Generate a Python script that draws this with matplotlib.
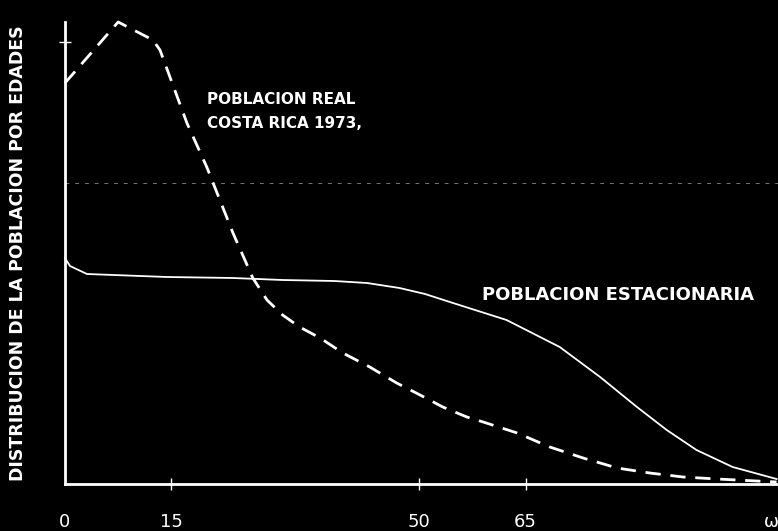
import matplotlib
matplotlib.use("Agg")

import matplotlib.pyplot as plt

# edades (x) y valores relativos (y)
edad_real = [0, 7.5, 12.4, 13.4, 17.2, 20.0, 23.7, 26.5, 28.5, 30.7, 33.1, 36.0,
             39.2, 43.0, 46.8, 50.1, 53.3, 56.7, 59.0, 63.8, 68.4, 73.1, 77.9,
             82.5, 87.2, 92.0, 100.4]
pob_real = [4.01, 4.62, 4.44, 4.34, 3.61, 3.17, 2.51, 2.06, 1.84, 1.69, 1.57, 1.46,
            1.31, 1.17, 1.01, 0.89, 0.77, 0.67, 0.62, 0.51, 0.37, 0.26, 0.16,
            0.11, 0.07, 0.05, 0.02]

edad_est = [0, 0.7, 3.1, 14.4, 23.7, 30.7, 38.0, 42.6, 47.2, 50.8, 54.3, 62.3,
            69.8, 75.5, 80.7, 84.9, 89.1, 94.2, 100.4]
pob_est = [2.26, 2.18, 2.10, 2.07, 2.06, 2.04, 2.03, 2.01, 1.96, 1.90, 1.82, 1.64,
           1.37, 1.07, 0.77, 0.54, 0.34, 0.17, 0.05]

ticks_x = [0, 15, 50, 65, 99.6]
etiquetas_x = ["0", "15", "50", "65", "ω"]

fig = plt.figure(figsize=(7.78, 5.31), dpi=100, facecolor="black")
ax = fig.add_axes([65 / 778, 47 / 531, 713 / 778, 462 / 531])
ax.set_facecolor("black")

# linea tenue del escaneo
ax.axhline(3.01, color="#777777", lw=0.7, ls=(0, (4, 6)), zorder=1)

ax.plot(edad_est, pob_est, color="white", lw=1.3, clip_on=False, zorder=3)
ax.plot(edad_real, pob_real, color="white", lw=2, clip_on=False, zorder=3,
        dashes=(5.5, 3.5))

ax.set_xlim(0, 100.6)
ax.set_ylim(0, 4.62)

for s in ["top", "right"]:
    ax.spines[s].set_visible(False)
for s in ["left", "bottom"]:
    ax.spines[s].set_color("white")
    ax.spines[s].set_linewidth(2)

ax.set_xticks(ticks_x)
ax.set_xticklabels(etiquetas_x, family=["Liberation Sans Narrow", "DejaVu Sans"],
                   fontsize=13, color="white")
ax.set_yticks([4.42])
ax.set_yticklabels([""])
ax.tick_params(axis="both", direction="inout", length=8, width=1, color="white", pad=17)
for t in [ax.xaxis.get_major_ticks()[0], ax.xaxis.get_major_ticks()[-1]]:
    t.tick1line.set_visible(False)

ax.set_ylabel("DISTRIBUCION DE LA POBLACION POR EDADES", color="white",
              fontsize=12.5, fontweight="bold")
ax.yaxis.set_label_coords(-38 / 713, 0.5)

ax.text(20.0, 3.84, "POBLACION REAL", color="white", fontsize=11,
        fontweight="bold", va="center")
ax.text(20.0, 3.61, "COSTA RICA 1973,", color="white", fontsize=11,
        fontweight="bold", va="center")
ax.text(58.8, 1.89, "POBLACION ESTACIONARIA", color="white", fontsize=13,
        fontweight="bold", va="center")

plt.savefig("out.png", dpi=100, facecolor="black")
plt.close()
